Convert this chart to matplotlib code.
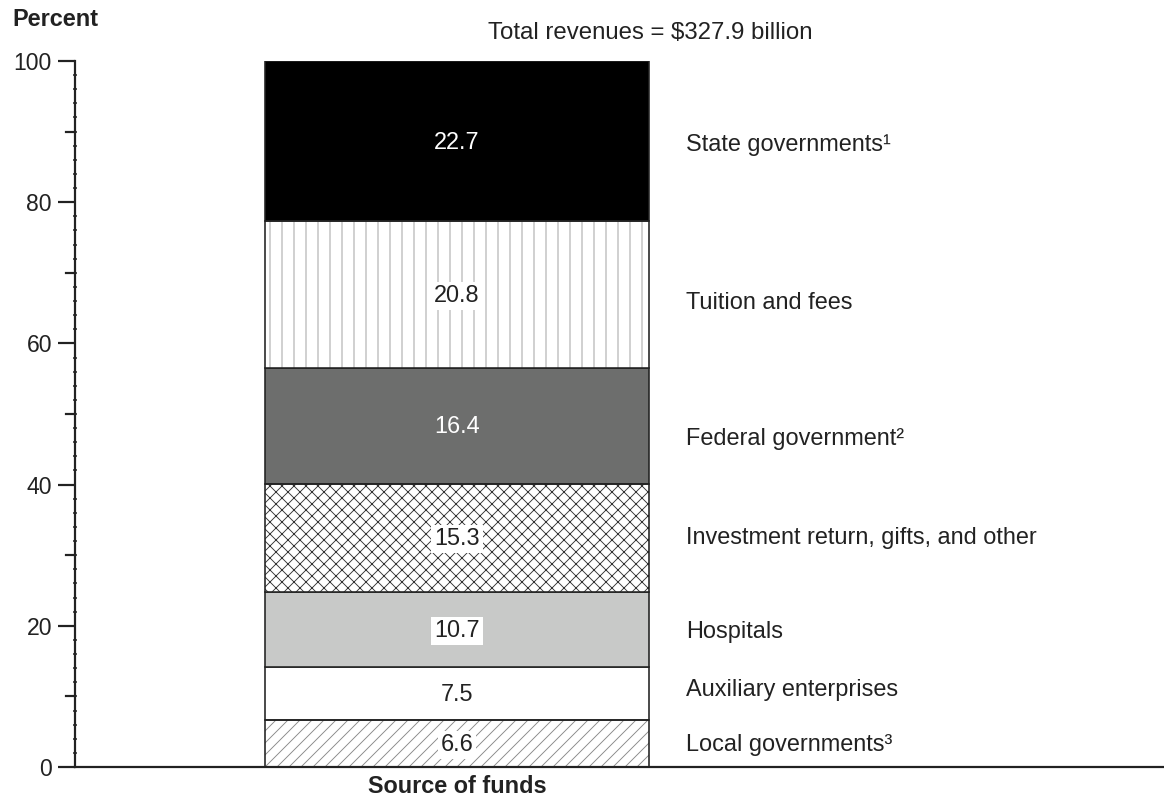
import matplotlib
matplotlib.use("Agg")
import matplotlib.pyplot as plt
import numpy as np

# stacked from bottom to top
sources = [
    "Local governments³",
    "Auxiliary enterprises",
    "Hospitals",
    "Investment return, gifts, and other",
    "Federal government²",
    "Tuition and fees",
    "State governments¹",
]
shares = [6.6, 7.5, 10.7, 15.3, 16.4, 20.8, 22.7]
total_label = "Total revenues = $327.9 billion"

fills = ["white", "white", "#c8c9c8", "white", "#6d6e6d", "white", "black"]
hatches = ["//", None, None, "xx", None, "|", None]
hatch_cols = ["#888888", None, None, "#333333", None, "#999999", None]
value_cols = ["#222222", "#222222", "#222222", "#222222", "white", "#222222", "white"]
boxed = [True, False, True, True, False, True, False]
label_nudge = [-0.2, 0.5, -0.3, 0.0, -1.8, -1.2, -0.6]

plt.rcParams["font.family"] = ["Liberation Sans", "DejaVu Sans"]
plt.rcParams["hatch.linewidth"] = 0.9

DPI = 72
W, H = 1164, 807
fig = plt.figure(figsize=(W / DPI, H / DPI), dpi=DPI)
ax = fig.add_axes([75 / W, 1 - 767 / H, 1 - 75 / W, (767 - 61) / H])

ax.set_xlim(0, W - 75)
ax.set_ylim(0, 100)
x0, bw = 190, 384
xc = x0 + bw / 2
ink = "#222222"

bottoms = np.concatenate([[0], np.cumsum(shares)[:-1]])
for i, (v, b) in enumerate(zip(shares, bottoms)):
    if hatches[i]:
        ax.bar(x0, v, bw, bottom=b, align="edge", color=fills[i],
               hatch=hatches[i], edgecolor=hatch_cols[i], linewidth=0, zorder=2)
        ax.bar(x0, v, bw, bottom=b, align="edge", fill=False,
               edgecolor=ink, linewidth=1.6, zorder=3)
    else:
        ax.bar(x0, v, bw, bottom=b, align="edge", color=fills[i],
               edgecolor=ink, linewidth=1.6, zorder=2)
    mid = b + v / 2
    kw = {}
    if boxed[i]:
        kw["bbox"] = dict(facecolor="white", edgecolor="none", pad=3)
    ax.text(xc, mid - 0.2, f"{v}", ha="center", va="center", fontsize=23.5,
            color=value_cols[i], zorder=5, **kw)
    ax.text(611, mid + label_nudge[i], sources[i], ha="left", va="center",
            fontsize=23.5, color=ink)

for s in ["top", "right"]:
    ax.spines[s].set_visible(False)
for s in ["left", "bottom"]:
    ax.spines[s].set_linewidth(2.2)
    ax.spines[s].set_color(ink)

ax.set_xticks([])
ax.set_yticks(np.arange(0, 101, 20))
ax.set_yticks(np.arange(0, 101, 2), minor=True)
ax.tick_params(axis="y", which="major", length=17, width=2.2, labelsize=23,
               colors=ink, pad=6)
ax.tick_params(axis="y", which="minor", length=4, width=1.5,
               direction="inout", colors=ink)
# medium ticks at the odd tens
for y in range(10, 100, 20):
    ax.plot([-9, 0], [y, y], color=ink, lw=2.2, clip_on=False)

ax.text(xc, -0.028, "Source of funds", transform=ax.get_xaxis_transform(),
        fontsize=23.5, fontweight="bold", color=ink, ha="center", va="center")
fig.text(12 / W, 1 - 19 / H, "Percent", fontsize=23.5, fontweight="bold",
         va="center", ha="left", color=ink)
fig.text(650 / W, 1 - 33 / H, total_label, fontsize=24,
         ha="center", va="center", color=ink)

fig.savefig("out.png", dpi=DPI)
